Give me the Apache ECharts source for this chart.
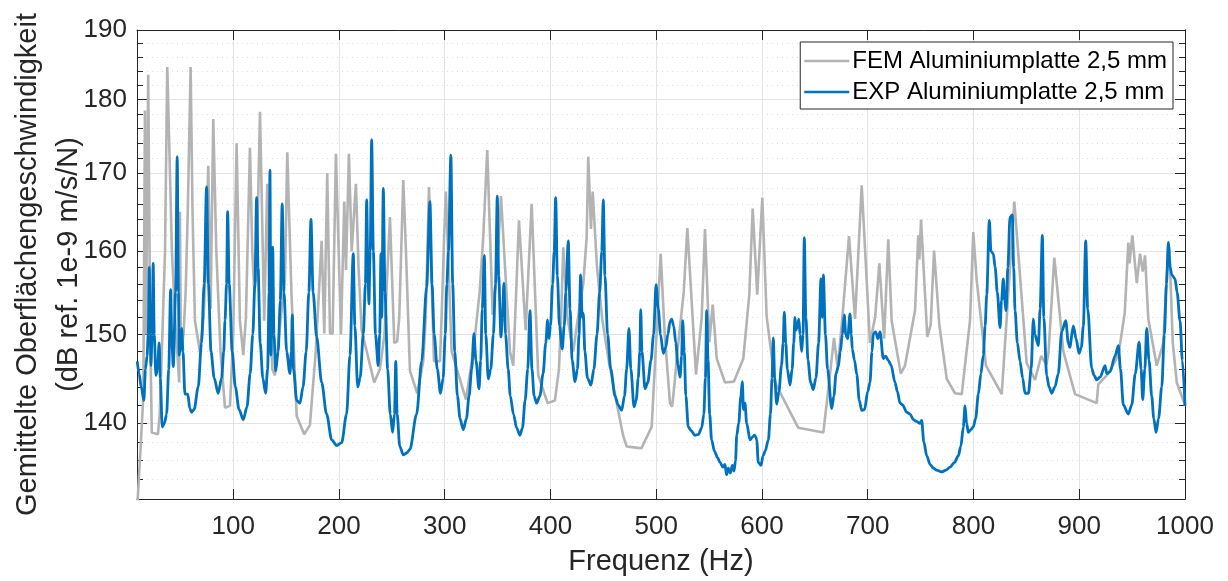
<!DOCTYPE html>
<html>
<head>
<meta charset="utf-8">
<script src="https://cdn.jsdelivr.net/npm/echarts@6/dist/echarts.min.js"></script>
<style>
html,body{margin:0;padding:0;background:#fff;}
#c{width:1228px;height:581px;}
</style>
</head>
<body>
<div id="c"></div>
<script>
// ---- data ----
const expFreq = [9.2,11,13,15.5,17,18.5,19.6,20.6,21.5,22.2,23.3,24.3,25.3,26.9,28.3,30,31,32.9,35,37,39,40.8,42,43.3,45.5,47,48.2,48.9,50.5,51.2,52.5,54.3,57,59,60.7,63,66.9,70,72.5,74.8,76.5,79,82,85.8,89,91,92.2,93.7,94.7,96.2,99,102,105.5,109.5,113,116,118.5,120.5,122.1,123.5,125.5,128,130.6,132.5,134,134.7,135.7,136.5,137.3,138.5,140.1,142.5,144.5,146.3,148,150.5,153.6,155,155.8,157,160,163.1,166,169,171.5,173.5,175.5,178.9,183.6,188.3,193.1,197.8,202.5,207.2,210.4,213.5,215,217.7,220,223,225,226.2,227.3,228.3,229.5,230.9,232.5,234.5,237.1,238.5,239.7,240.5,241.9,243.5,246,248.5,250.7,252.5,253.7,255,257.5,260.8,264,267.1,273.4,278.2,282.9,286,288,290,293,296,298.5,300.5,302,303.5,305.8,307.5,309.5,312,314.5,317.5,320.5,323,325.5,327.6,329.5,332.4,334,335.5,337.4,338.8,341.2,343.5,346,348,349.7,351,353.2,354.5,356,357.5,360,362,365,368,371.1,373.5,376,378.5,380.6,382.5,384.5,386.9,390,393,395.5,397.3,398.5,400,402,403.5,404.9,406.5,408.5,411.1,413,414.5,416.8,418.5,420.5,423.2,425.5,427,428.5,430,431,432.5,435,438.3,441,444,446.5,448.5,449.9,451.5,454,457,461,464,467.3,470,472,474.2,476,479,481,483,484.5,485.3,486.5,489.4,492,495,497.5,499.8,502,504,506.7,509,511,513,514.6,516.5,518.5,520.5,522.5,524,525,526.5,528,530.3,533,536.6,540,543,545,546.5,547.7,549,550.5,552.4,555,558,560.3,563,565,566.5,568.1,570,572,573.5,575,576.1,578,580,581.4,582.5,583.9,585.5,588.7,591,593,594.3,595,596.5,599.1,601,603,606,608,609.5,610.7,612,613.9,616,618.5,620,621.1,622.5,624,626.5,628.5,630,631.2,632.2,633.5,634.8,636,637.5,638.8,640,641.5,643.5,646,648.5,651,653.5,655.8,657,658,660,662,665.9,668,670,672.2,674,676,677.8,679.2,681,683.2,684.5,685.4,687.5,689.6,692,694.3,697,700,702.1,704,705.3,707.5,709.5,711.6,714.7,717,719.4,722,725.8,728,730.5,733,736.8,740,743.1,746,749.4,751,753,755.8,759,762,765,769.9,774,777.8,782,785.6,788,790.4,792,793.5,795.1,797.5,799.8,802,804.6,807,809.3,811,812.5,815,816.5,818.7,820.5,822.5,825.1,826.5,828.2,829.5,830.8,832.5,834.5,836.7,838,839.3,841.5,844,846.5,848.7,852,854.5,856.6,858,861.3,863,865.1,866.5,869.2,871.5,874,877,880.2,883.4,887.2,889.7,891,894.4,897,899.8,902,903.9,906.1,908,911.8,914,916.5,919.7,924.4,926,929.1,933.8,937,939,941.7,946.4,949.6,953,956.6,958.5,960,962,963.8,966,968.5,970.5,972.6,975,978,980.5,982.5,984.2,986,987.5,990.6,992.5,995.3,997.5,1000];
const expDb = [146.9,145.5,144,142.5,146,147.5,150,158,150,146.4,150,158.5,150,145.3,146,149,145,139.6,140,141,146,155.3,149,146.3,155,172.2,155,147.6,149,150.7,148,143.2,143.2,141.6,141.2,141.5,144,149,156,168.2,156,148,145,143.3,145,148,151.6,156,165,156,148,144,141.5,140.4,141.8,145.5,150,156,166.8,158,149,145,143.3,146,155,170.4,147.6,152,160.5,150,145.8,148,154,166,155,148,145.5,148,152.3,146,142.5,142.2,144,148,155,164,155,149.7,144.5,141,138.2,137.6,137.9,141,147.6,159.7,151,144,145,150,156,166.5,158,153.6,160,174.5,160,150,146.4,150,159.7,152,168,155,146,141,139,141,146.9,141,137.5,136.6,136.8,137.2,141,146.9,155.6,166.3,156,150,146,143.3,145,150,156,160,172.4,156,148,143,140.5,139.3,140.5,143,146,150.1,147,143.8,147,153,159.5,150,144.9,146,150,156,167,157,149.7,152,156.1,150,146,143,141,139.5,138.7,139.5,142.5,146,152.8,146,143,142.2,143,145.5,149,151.7,149.5,151,156,160,166.8,157,151,148.3,151,155,161.3,153,147,144.6,146,150,157.1,152,152.5,148,145,144.2,146,150,155,160,166.5,157,150,146,143,142,141.4,143,146,150.7,146,141.8,142.5,145,148,152.9,148,143.8,144.5,147,150,155.9,153,150,147.8,148.5,150,151.5,151.8,151,149,146.5,145.1,147.5,151.6,148,143,139.6,139.2,138.7,138.8,139.5,141,145,152.8,147,141,138.2,137,136.3,135.8,135.3,135.6,134.5,135.2,134.7,135.5,134.9,136,138.7,140,143,144.6,141.5,142.2,140,138.2,138.5,138.7,138.5,138.2,135.8,135.5,136.5,137,138.2,141,145,149.6,145,142.1,143.5,146.5,149,152.6,149,146,144.2,146,149,152,150.5,151,151.8,150,148,150,161.7,152,147,144.5,143.7,145,149,156.6,152,157.1,150,146,141.6,143,145.5,146.3,148,150,152.3,150,149.5,152.4,150,148.3,147,145.4,142.5,141.4,141.5,143.5,144.5,148,150.1,150.3,149.5,150.3,147.2,147.5,147,146.5,144.5,143.5,142.2,142,141.2,141,140.4,140.2,140,140.3,138,136.5,135.6,135.2,135,134.8,135,135.3,135.8,136.5,137.5,139.6,141.9,140,139,139.3,139.6,140.5,143.2,145.5,147.6,151,154.7,163.9,160,159.7,158,155,150.8,154,156.6,154,152.8,158,164.3,164.6,158,152.8,149,146.9,145,143.3,143.3,146,151.8,150,148.7,153,162,152,145.3,144,143.3,144,145.5,150.3,151.6,149,148.5,151,149.5,147.8,148.5,151,161.3,153,146.1,145.3,144.8,145.1,146.4,145.5,145.7,147.5,148.7,146,142,141,142,145.5,149.1,146,142.6,146,150.7,147,143,140.5,139,140.5,144,150,156,161.1,158,157.1,156.6,155,151.6,147,141.9];

const femFreq = [9.4,12.5,15,16.5,17.5,19.6,21.5,23,24.1,28.8,30.5,33,35.5,37.6,39.5,42,45,48.9,49.6,50.5,53,55,57,59.7,61.5,63.8,68.5,72,74,76.4,78.6,81.1,84,88,92.2,96.9,100,103.2,106.3,109.5,112,115.8,118,120,122,125.3,129.3,132.2,134,137,139.4,141,145,148.9,151.1,155,160,167.1,172.5,178,183.6,186.1,188.9,191.5,194,197.1,201.9,205,206.6,209.4,212,216,218.5,221.4,233.3,238.7,243,248.2,252.3,255,257,260.8,263.3,267.1,274,279.7,282,285.1,289.8,295.5,297,299.5,301.1,306.5,320.1,327,333,336.5,340.2,345.3,349,353.2,356.9,361.7,364.8,370.2,376.5,382.2,388.4,397.3,404.2,408,410,412.1,416,421.5,426,431,434.2,435.7,438.3,439.9,444,449,455,464.1,468.8,472,479,486,495.7,504.2,508,513,515,517,520,526,529.4,537.6,543,546.1,550.2,553.4,557.2,565,573.5,582.3,588,591.2,595.5,600.3,604.4,612.3,634.3,658,662.7,668.1,671.6,676,682.3,688,694.3,702.1,707,711,715.5,719.4,722.6,731.2,735.2,744.7,747.8,748.8,750.4,756.3,759.5,762.7,767.7,774.7,782.5,788.9,796.7,799.8,803,811.8,816,826.7,833,838.6,850.3,858.2,864,869,871,876.4,885,896,916.5,918,927.5,937,943,946.4,947.5,950.2,954.4,957.5,960,962.2,965.3,973.3,979.5,982.7,985.2,988.4,992.2,1000];
const femDb = [131.5,137.5,143,178.5,150,183.5,150,139,138.8,138.8,141,150,160,184.6,173.8,160,152,144.5,165,148,150,155,165,184.6,165,151.6,148,152,158,171,153,177.3,160,148,141.7,141.9,150,174,151.6,147.6,152,173.4,160,155,157,178.3,151.6,168.6,155,146,145.3,145.5,152,156.5,172.8,155,140.8,138.8,139.8,148,161.3,150.1,170,150.1,150.1,172.6,150,166.3,157.7,172.6,160,168.6,158,150.5,144.5,146,150,164.3,149,149.2,152,169.1,160.1,145.8,143.3,146.9,152,168.2,146.9,146.9,152,162.1,167.6,148,142.6,148,155,162,173.1,152.3,157,167,158.3,148,146.4,163.9,150.5,166,145.3,142.2,142.5,146,152,160.5,152,148,152,156,161.7,172.2,162.8,167.6,158,151.7,147,141.3,138.6,137.5,137.4,137.3,139.6,159.7,150,142.2,141.8,144,148,155,162.9,145.4,152,162.8,149.1,153.5,147.2,144.5,144.6,147.2,154.7,165.4,154.7,166.8,152.1,144.5,139.5,139,143.7,149.6,146.1,152,161.9,151.8,168.4,149,152,158.5,149.5,161.5,151.6,145.5,146.4,152.8,162,159,164,149.7,151.1,160.1,151.1,144.9,143.3,143.2,151.6,162.4,156.5,146.4,145.5,143.2,155,166.3,146.7,144.8,147.5,146.5,148,159.2,148,143.2,142.2,144.3,145.5,147.6,152.5,161.1,158.5,162,156.1,159.7,157.5,159.5,151.8,146.4,149,157.1,160.5,149.1,144.5,142];

const xTicks = [100,200,300,400,500,600,700,800,900,1000];
const yTicks = [140,150,160,170,180,190];
const yMinorTicks = [134,136,138,142,144,146,148,152,154,156,158,162,164,166,168,172,174,176,178,182,184,186,188];
const seriesNames = ['FEM Aluminiumplatte 2,5 mm','EXP Aluminiumplatte 2,5 mm'];
const xName = 'Frequenz (Hz)';
const yName = 'Gemittelte Oberflächengeschwindigkeit\n(dB ref. 1e-9 m/s/N)';

// ---- chart ----
const L = v => Math.log10(v);   // y axis is logarithmic
const FONT = "'Liberation Sans', Arial, Helvetica, sans-serif";
const AX = '#262626';
const yMin = L(132), yMax = L(190);
const xMin = 9, xMax = 1000;

function pairs(fs, ds){ return fs.map((f,i)=>[f, L(ds[i])]); }

const chart = echarts.init(document.getElementById('c'), null, {renderer:'canvas'});

function yAx(pos, ticks, len, withLabel, split){
  return {
    type:'value', min:yMin, max:yMax, position:pos, scale:true,
    axisLine:{show:withLabel || pos==='right', lineStyle:{color:AX, width:1}},
    axisTick:{show:true, inside:true, length:len, customValues:ticks.map(L), lineStyle:{color:AX, width:1}},
    axisLabel:{show:withLabel, customValues:ticks.map(L), margin:10, fontSize:26, color:AX, fontFamily:FONT,
      formatter:v=>String(Math.round(Math.pow(10,v)))},
    splitLine: split,
    name: withLabel ? yName : '',
    nameLocation:'middle', nameRotate:90, nameGap:48, nameMoveOverlap:false,
    nameTextStyle:{fontSize:29, color:AX, fontFamily:FONT, lineHeight:41}
  };
}

const option = {
  animation:false,
  backgroundColor:'#ffffff',
  grid:{left:137, right:43, top:30, bottom:82, containLabel:false, outerBoundsMode:'none'},
  legend:{
    orient:'vertical', right:55, top:42,
    data:seriesNames, icon:'rect',
    backgroundColor:'#ffffff', borderColor:AX, borderWidth:1, borderRadius:0,
    padding:[7,6,5,4], itemGap:7, itemWidth:45, itemHeight:2.6,
    textStyle:{fontSize:24, color:'#000', fontFamily:FONT, lineHeight:24, padding:[0,0,0,-2]}
  },
  xAxis:[
    {type:'value', min:xMin, max:xMax, position:'bottom',
     name:xName, nameLocation:'middle', nameGap:48, nameMoveOverlap:false,
     nameTextStyle:{fontSize:29, color:AX, fontFamily:FONT},
     axisLine:{show:true, onZero:false, lineStyle:{color:AX, width:1}},
     axisTick:{show:true, inside:true, length:10, customValues:xTicks, lineStyle:{color:AX}},
     axisLabel:{show:true, customValues:xTicks, margin:15, fontSize:26, color:AX, fontFamily:FONT,
       formatter:v=>String(v)},
     splitLine:{show:true, lineStyle:{color:'#e3e3e3', width:1}}},
    {type:'value', min:xMin, max:xMax, position:'top',
     axisLine:{show:true, onZero:false, lineStyle:{color:AX, width:1}},
     axisTick:{show:true, inside:true, length:10, customValues:xTicks, lineStyle:{color:AX}},
     axisLabel:{show:false},
     splitLine:{show:false}}
  ],
  yAxis:[
    yAx('left', yTicks, 10, true, {show:true, lineStyle:{color:'#e3e3e3', width:1}}),
    yAx('left', yMinorTicks, 6, false, {show:true, lineStyle:{color:'#dcdcdc', width:1, type:[1,4]}}),
    yAx('right', yTicks, 10, false, {show:false}),
    yAx('right', yMinorTicks, 6, false, {show:false})
  ],
  series:[
    {name:seriesNames[0], type:'line', xAxisIndex:0, yAxisIndex:0,
     data:pairs(femFreq, femDb), symbol:'none', showSymbol:false,
     lineStyle:{color:'#b3b3b3', width:2.6}, itemStyle:{color:'#b3b3b3'}, z:2},
    {name:seriesNames[1], type:'line', xAxisIndex:0, yAxisIndex:0,
     data:pairs(expFreq, expDb), symbol:'none', showSymbol:false,
     smooth:0.3, smoothMonotone:'x',
     lineStyle:{color:'#0072bd', width:2.8}, itemStyle:{color:'#0072bd'}, z:3}
  ]
};
chart.setOption(option);
</script>
</body>
</html>
